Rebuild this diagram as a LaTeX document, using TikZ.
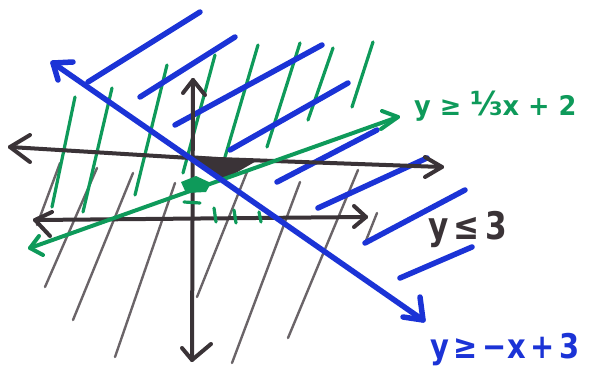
\documentclass[tikz,border=0pt]{standalone}
\usepackage{fontspec}
\setmainfont{DejaVu Sans}
\definecolor{pblue}{HTML}{1B33D6}
\definecolor{pgreen}{HTML}{0E9A5A}
\definecolor{pdark}{HTML}{3A3337}
\definecolor{pgray}{HTML}{6A6468}
\tikzset{
  axisline/.style={draw=pdark, line width=4pt, line cap=round, line join=round},
  blueline/.style={draw=pblue, line width=5.5pt, line cap=round, line join=round},
  greenline/.style={draw=pgreen, line width=4pt, line cap=round, line join=round},
  greenhatch/.style={draw=pgreen, line width=3.2pt, line cap=round},
  grayhatch/.style={draw=pgray, line width=2.4pt, line cap=round},
  lbl/.style={font=\bfseries, inner sep=0pt, anchor=west}
}
\begin{document}
\begin{tikzpicture}[x=1pt,y=-1pt]
\useasboundingbox (0,0) rectangle (589,369);
% gray hatches (lower shaded region)
\foreach \xa/\ya/\xb/\yb in {60/163/37/225, 97/168/45/287, 133/173/73/320, 175/183/115/357,
                   247/172/197/297, 300/182/232/363, 358/170/288/338, 377/213/365/243}{
  \draw[grayhatch] (\xa,\ya) -- (\xb,\yb);
}
% green hatches
\foreach \xa/\ya/\xb/\yb in {75/97/52/207, 112/88/83/212, 167/65/135/195, 215/55/183/173,
                   258/45/225/157, 300/43/267/147, 333/48/308/120, 373/42/352/107}{
  \draw[greenhatch] (\xa,\ya) -- (\xb,\yb);
}
% blue hatches
\foreach \xa/\ya/\xb/\yb in {88/82/200/12, 140/97/235/37, 175/125/322/45, 230/150/348/83,
                   277/182/377/130, 318/208/427/158, 365/243/465/190, 400/278/472/247}{
  \draw[blueline] (\xa,\ya) -- (\xb,\yb);
}
% axes and y<=3 line
\coordinate (ul) at (10,147);  \coordinate (um) at (190,158); \coordinate (ur) at (442,167);
\coordinate (ll) at (35,220);  \coordinate (lr) at (366,217);
\coordinate (vt) at (193,80);  \coordinate (vb) at (192,360);
\draw[axisline] (ul) -- (um) -- (ur);
\draw[axisline] (ul) -- (30,135) (ul) -- (30,162);
\draw[axisline] (ur) -- (425,157) (ur) -- (425,177);
\fill[pdark] (188,155) -- (258,160) -- (222,181) -- cycle;
\draw[axisline] (ll) -- (lr);
\draw[axisline] (ll) -- (52,212) (ll) -- (50,236);
\draw[axisline] (lr) -- (354,206) (lr) -- (354,227);
\draw[axisline] (vt) -- (vb);
\draw[axisline] (vt) -- (183,93) (vt) -- (205,95);
\draw[axisline] (vb) -- (182,348) (vb) -- (211,344);
% green boundary line
\coordinate (gl) at (30,248); \coordinate (gr) at (398,117);
\draw[greenline] (gl) -- (gr);
\draw[greenline] (gl) -- (39,236) (gl) -- (43,255);
\draw[greenline] (gr) -- (382,111) (gr) -- (381,129);
% green marks near origin
\fill[pgreen] (181,182) -- (196,176) -- (211,183) -- (206,192) -- (186,193) -- cycle;
\draw[greenhatch] (184,202) -- (200,203);
\draw[greenhatch] (214,208) -- (216,222);
\draw[greenhatch] (234,210) -- (236,223);
\draw[greenhatch] (259,212) -- (261,222);
% blue boundary line
\coordinate (bl) at (53,63); \coordinate (br) at (423,320);
\draw[blueline] (bl) -- (193,160) -- (br);
\draw[blueline] (bl) -- (73,62) (bl) -- (58,80);
\draw[blueline] (br) -- (420,297) (br) -- (403,317);
% labels
\node[lbl, text=pgreen, font=\bfseries\fontsize{27}{27}\selectfont] (lg) at (414,106)
  {\scalebox{0.95}[1]{y ≥ {\fontsize{33}{33}\selectfont ⅓}x + 2}};
\node[lbl, text=pdark, font=\bfseries\fontsize{38}{38}\selectfont] (ld) at (428,229)
  {\scalebox{0.82}[1]{y\,≤\,3}};
\node[lbl, text=pblue, font=\bfseries\fontsize{34}{34}\selectfont] (lb) at (430,350)
  {\scalebox{0.85}[1]{y\,≥\,−x\,+\,3}};
\end{tikzpicture}
\end{document}
